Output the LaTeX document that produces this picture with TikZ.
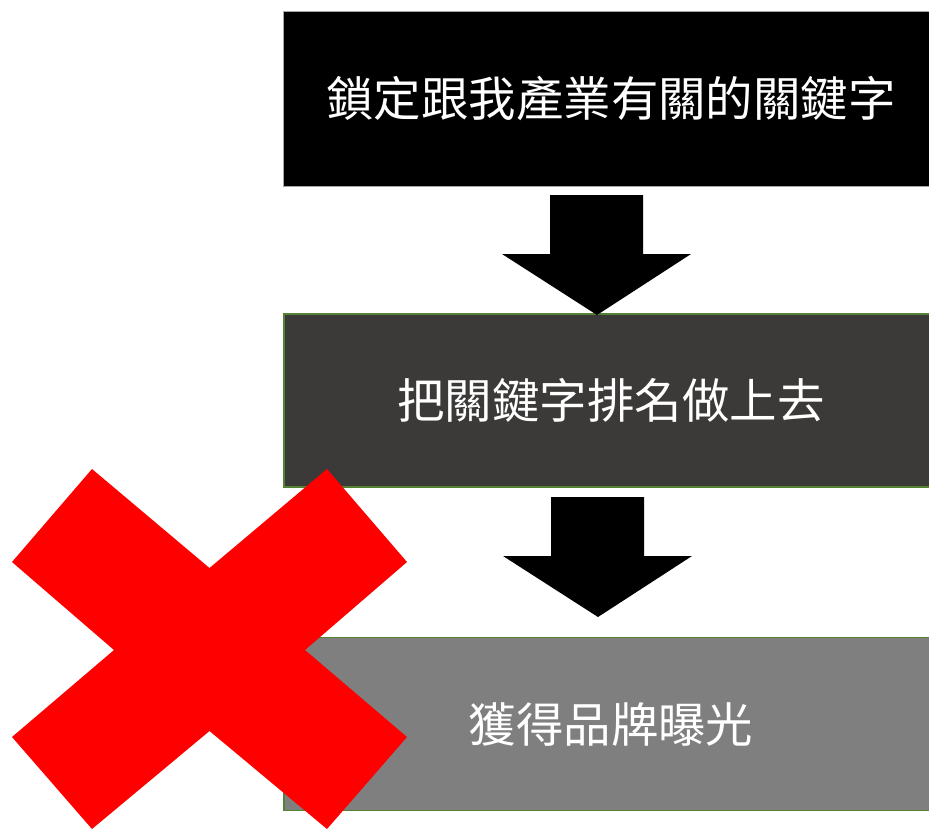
\documentclass[tikz,border=0pt]{standalone}
\usepackage{fontspec}
\newfontfamily\cjk{Noto Sans CJK TC}
\definecolor{boxgreen}{HTML}{548235}
\definecolor{darkbox}{HTML}{3B3A38}
\definecolor{midbox}{HTML}{7F7F7F}
\tikzset{
  stepbox/.style={rectangle, minimum width=13.1cm, minimum height=3.46cm, inner sep=0pt,
    text=white, font=\cjk\fontsize{27}{32}\selectfont},
  downarrow/.style={fill=black, draw=none},
  cross/.style={fill=red, draw=none}
}
\begin{document}
\begin{tikzpicture}[x=0.02cm,y=-0.02cm]
        \useasboundingbox (0,0) rectangle (929,829);
        \clip (0,0) rectangle (929,829);
        % boxes
        \node[stepbox, fill=black, draw=gray!70, line width=0.4pt, minimum height=3.5cm] (lock) at (611,98.5) {鎖定跟我產業有關的關鍵字};
        \node[stepbox, fill=darkbox, draw=boxgreen, line width=1.1pt] (rank) at (611,400.5) {把關鍵字排名做上去};
        \node[stepbox, fill=midbox, draw=boxgreen, line width=1.1pt] (brand) at (611,724) {獲得品牌曝光};
        % block arrows
        \coordinate (tipa) at (597,315);
        \coordinate (tipb) at (598,617);
        \foreach \t in {tipa,tipb}{
          \fill[downarrow] (\t) -- ++(-95,-61) -- ++(48,0) -- ++(0,-59) -- ++(93,0) -- ++(0,59) -- ++(48,0) -- cycle;
        }
        % red cross
        \fill[cross] (92,469) -- (209.5,568) -- (327,469) -- (407,562) -- (305,650) -- (407,737)
          -- (327,829) -- (209.5,731) -- (92,829) -- (12,737) -- (114,650) -- (12,562) -- cycle;
      \end{tikzpicture}
\end{document}
